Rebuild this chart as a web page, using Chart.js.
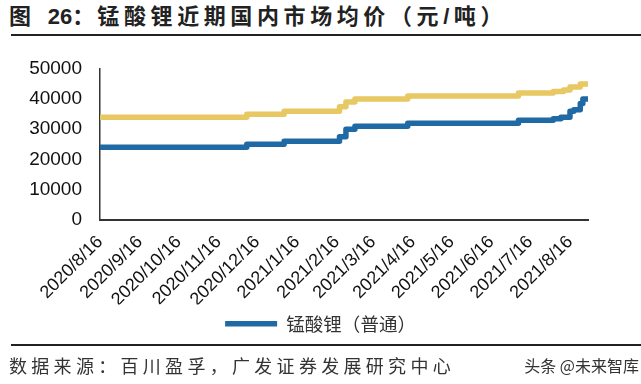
<!DOCTYPE html>
<html><head><meta charset="utf-8">
<script src="https://cdn.jsdelivr.net/npm/chart.js@4.4.1/dist/chart.umd.min.js"></script>
<style>
html,body{margin:0;padding:0;background:#fff;width:641px;height:384px;overflow:hidden;position:relative;font-family:"Liberation Sans","Noto Sans CJK SC",sans-serif;}
#title{position:absolute;left:9px;top:2px;font-size:22px;font-weight:bold;color:#222;white-space:nowrap;line-height:30px;}
#title .cj{letter-spacing:4.6px;}
.rule{position:absolute;left:11px;right:0;height:2px;background:#222;}
#wrap{position:absolute;left:0;top:0;width:641px;height:345px;}
#src{position:absolute;left:9px;top:352px;font-family:"Noto Sans CJK SC",sans-serif;font-size:18px;letter-spacing:4.3px;color:#333;white-space:nowrap;line-height:26px;}
#wm{position:absolute;right:2px;top:354px;font-family:"Noto Sans CJK SC",sans-serif;font-size:16px;color:#333;white-space:nowrap;line-height:22px;}
</style>
</head><body>
<div id="title"><span class="cj">图</span>&nbsp;&nbsp;<span>26：</span><span class="cj" style="margin-left:3px">锰酸锂近期国内市场均价（元/吨）</span></div>
<div class="rule" style="top:34px"></div>
<div id="wrap"><canvas id="c" width="641" height="345"></canvas></div>
<div class="rule" style="top:344px"></div>
<div id="src">数据来源：百川盈孚，广发证券发展研究中心</div>
<div id="wm">头条 @未来智库</div>
<script>
// ---- data ----
const seriesName = '锰酸锂（普通）';
const blueDates  = ['2020/8/16','2020/12/8','2021/1/6','2021/2/18','2021/2/23','2021/3/2','2021/4/12','2021/7/7','2021/8/3','2021/8/9','2021/8/16','2021/8/19','2021/8/24','2021/8/26','2021/8/30'];
const blueValues = [24000,25000,26000,27500,30000,31000,32000,33000,33500,34000,36000,36500,38500,40000,40000];
const yellowDates  = ['2020/8/16','2020/12/8','2021/1/6','2021/2/18','2021/2/23','2021/3/2','2021/4/12','2021/7/7','2021/8/3','2021/8/11','2021/8/16','2021/8/24','2021/8/30'];
const yellowValues = [34000,35000,36000,37500,39000,40000,41000,42000,42500,43000,44000,45000,45000];
const tickLabels = ['2020/8/16','2020/9/16','2020/10/16','2020/11/16','2020/12/16','2021/1/16','2021/2/16','2021/3/16','2021/4/16','2021/5/16','2021/6/16','2021/7/16','2021/8/16'];
const yTicks = [0,10000,20000,30000,40000,50000];

const base = Date.UTC(2020,7,16);
function day(s){const p=s.split('/').map(Number);return (Date.UTC(p[0],p[1]-1,p[2])-base)/86400000;}
const pts = (ds,vs)=>ds.map((d,i)=>({x:day(d),y:vs[i]}));
const labelByDay = {}; tickLabels.forEach(s=>{labelByDay[day(s)]=s;});

new Chart(document.getElementById('c'),{
  type:'line',
  data:{datasets:[
    {label:seriesName,data:pts(blueDates,blueValues),borderColor:'#1F6AA5',backgroundColor:'#1F6AA5',borderWidth:5.5,pointRadius:0,stepped:true,borderCapStyle:'round',borderJoinStyle:'round'},
    {label:'',data:pts(yellowDates,yellowValues),borderColor:'#E8C862',backgroundColor:'#E8C862',borderWidth:5.5,pointRadius:0,stepped:true,borderCapStyle:'round',borderJoinStyle:'round'}
  ]},
  options:{
    responsive:false,animation:false,
    layout:{padding:{top:69,left:0,right:0,bottom:2}},
    plugins:{
      legend:{position:'bottom',labels:{filter:it=>it.text!=='',usePointStyle:true,pointStyle:'line',pointStyleWidth:52,boxHeight:5,padding:10,color:'#333',font:{family:'"Noto Sans CJK SC"',size:18.5}}},
      tooltip:{enabled:false}
    },
    scales:{
      x:{type:'linear',min:day(tickLabels[0]),max:day('2021/8/30'),
        afterBuildTicks:s=>{s.ticks=tickLabels.map(t=>({value:day(t)}));},
        afterFit:s=>{s.height=85;},
        grid:{display:false},border:{display:true,color:'#333',width:2},
        ticks:{autoSkip:false,minRotation:45,maxRotation:45,padding:4,color:'#111',font:{family:'"Liberation Sans"',size:18},callback:v=>labelByDay[v]||''}},
      y:{min:0,max:50000,
        afterBuildTicks:s=>{s.ticks=yTicks.map(v=>({value:v}));},
        afterFit:s=>{s.width=100;},
        grid:{display:false,drawTicks:false},border:{display:true,color:'#333',width:1.5},
        ticks:{padding:18,color:'#111',font:{family:'"Liberation Sans"',size:19},callback:v=>String(v)}},
      yRight:{position:'right',display:true,min:0,max:50000,
        afterFit:s=>{s.width=53;},
        grid:{display:false,drawTicks:false},border:{display:false},ticks:{display:false}}
    }
  }
});
</script>
</body></html>
